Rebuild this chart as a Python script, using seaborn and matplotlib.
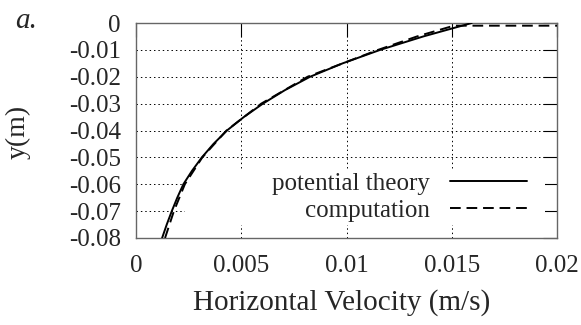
import matplotlib
matplotlib.use("Agg")
import matplotlib.pyplot as plt
import seaborn as sns
import pandas as pd
from matplotlib.patches import Rectangle

# Data
theory_y = [-0.080, -0.075, -0.070, -0.065, -0.060, -0.055, -0.050, -0.045, -0.040,
            -0.035, -0.030, -0.025, -0.020, -0.015, -0.010, -0.005, 0.000]
theory_u = [0.00124, 0.00146, 0.00170, 0.00196, 0.00225, 0.00266, 0.00313, 0.00368, 0.00432,
            0.00512, 0.00603, 0.00707, 0.00827, 0.00982, 0.01160, 0.01365, 0.01595]

comp_y = [-0.080, -0.070, -0.060, -0.050, -0.040, -0.030, -0.020, -0.010, -0.005, -0.001, -0.001]
comp_u = [0.00138, 0.00180, 0.00232, 0.00315, 0.00430, 0.00595, 0.00815, 0.01150, 0.01335, 0.01510, 0.02000]

x_ticks = [0, 0.005, 0.01, 0.015, 0.02]
x_labels = ["0", "0.005", "0.01", "0.015", "0.02"]
y_ticks = [0, -0.01, -0.02, -0.03, -0.04, -0.05, -0.06, -0.07, -0.08]
y_labels = ["0", "-0.01", "-0.02", "-0.03", "-0.04", "-0.05", "-0.06", "-0.07", "-0.08"]

sns.set_style("white")
plt.rcParams["font.family"] = ["Liberation Serif", "DejaVu Serif"]
plt.rcParams["font.size"] = 18

fig = plt.figure(figsize=(5.81, 3.25), dpi=100)
ax = fig.add_axes([136 / 581, 1 - 238 / 325, 421 / 581, 215 / 325])

df_t = pd.DataFrame({"u": theory_u, "y": theory_y})
df_c = pd.DataFrame({"u": comp_u, "y": comp_y})

sns.lineplot(data=df_t, x="u", y="y", sort=False, estimator=None, ax=ax,
             color="black", lw=1.4, label="potential theory", zorder=3)
sns.lineplot(data=df_c, x="u", y="y", sort=False, estimator=None, ax=ax,
             color="black", lw=1.4, dashes=False, label="computation", zorder=3)
ax.lines[1].set_dashes([5.5, 3])

ax.set_xlim(0, 0.02)
ax.set_ylim(-0.08, 0)
ax.set_xticks(x_ticks)
ax.set_xticklabels(x_labels)
ax.set_yticks(y_ticks)
ax.set_yticklabels(y_labels)

ax.set_axisbelow(True)
ax.grid(True, color="black", linestyle=(0, (1.5, 3)), lw=0.7)
ax.tick_params(axis="both", direction="in", length=10, width=0.8, color="black",
               top=True, right=True, labelsize=18)
ax.tick_params(axis="x", pad=12)
ax.tick_params(axis="y", pad=11)
for s in ax.spines.values():
    s.set_color("#666666")
    s.set_linewidth(1.0)

# white background behind the key (as in the original)
ax.add_patch(Rectangle((0.116, 0.06), 0.855, 0.256, transform=ax.transAxes,
                       facecolor="white", edgecolor="none", zorder=1))

leg = ax.legend(loc="center right", bbox_to_anchor=(0.929, 0.19), frameon=False,
                markerfirst=False, borderpad=0, borderaxespad=0, labelspacing=0.18,
                handlelength=3.1, handletextpad=0.8, fontsize=18)
for h in leg.get_lines():
    h.set_linewidth(1.4)
leg.get_lines()[1].set_dashes([5.5, 3])

ax.set_xlabel("Horizontal Velocity (m/s)", fontsize=21)
ax.xaxis.set_label_coords((342 - 136) / 421, (238 - 303) / 215)
ax.xaxis.label.set_va("center")
ax.set_ylabel("y(m)", fontsize=20)
ax.yaxis.set_label_coords((18 - 136) / 421, (238 - 132) / 215)
ax.yaxis.label.set_va("center")
fig.text(15 / 581, 1 - 21 / 325, "a.", fontsize=21, style="italic", va="center", ha="left")

fig.savefig("out.png", dpi=100)
